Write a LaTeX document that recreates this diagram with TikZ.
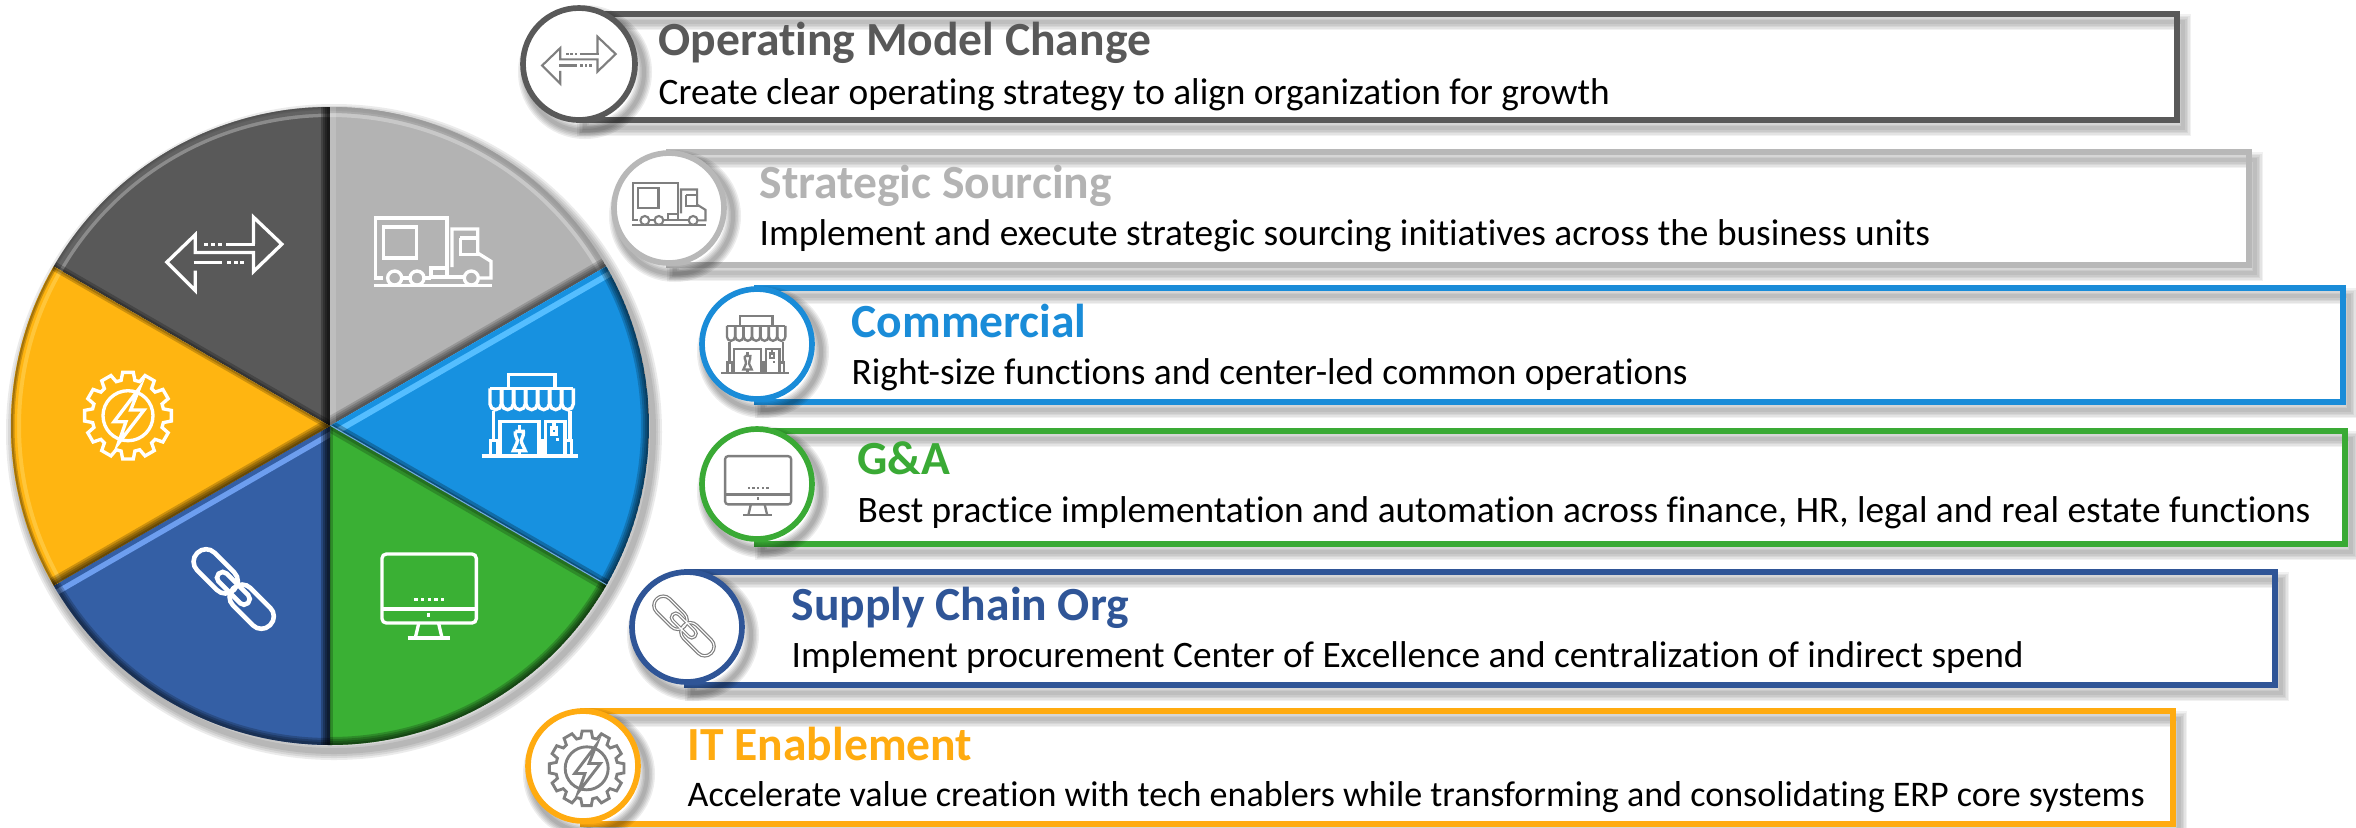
\documentclass[tikz,border=0pt]{standalone}
\usepackage{fontspec}
\setmainfont{Carlito}[Ligatures=CommonOff]
\usetikzlibrary{calc}
\newcommand{\softline}[4]{\foreach \w in {#3}{\draw[#2,opacity=#4,line width=\w*0.3pt] #1;}}
\newcommand{\radial}[1]{(C) -- ++(#1:319)}
\newcommand{\rim}[2]{($(C)+(#1:319)$) arc[start angle=#1,end angle=#2,radius=319]}
\newcommand{\sectorpath}[2]{(C) -- ++(#1:319) arc[start angle=#1,end angle=#2,radius=319] -- cycle}
\newcommand{\iconarrows}[4]{\begin{scope}[shift={(#1,#2)},scale=#3/3,shift={(-673,-581)},draw=#4,fill=#4,line width=#3*1pt,line join=miter]
\draw (678,553) -- (765,553);
\foreach \d in {612,632,652}{\fill (\d,548) rectangle ++(12,10);}
\draw (760,553) -- (760,472) -- (845,553) -- (760,635) -- (760,578) -- (585,578) -- (585,525) -- (500,607) -- (585,692) -- (585,632);
\draw (580,607) -- (665,607);
\foreach \d in {680,700,720}{\fill (\d,602) rectangle ++(12,10);}
\end{scope}}
\newcommand{\icontruck}[4]{\begin{scope}[shift={(#1,#2)},scale=#3/3,shift={(-278,-187)},draw=#4,line width=#3*1pt]
\draw (128,265) -- (105,265) -- (105,85) -- (320,85) -- (320,232);
\draw (130,112) rectangle (228,205);
\draw (102,288) -- (455,288);
\foreach \d in {163,230,393}{\draw (\d,265) circle[radius=21];}
\draw (272,235) rectangle (320,262);
\draw (186,265) -- (208,265);\draw (252,265) -- (272,265);
\draw (320,262) -- (370,262);
\draw (335,232) -- (335,118) -- (412,118) -- (412,190) -- (452,215) -- (452,265) -- (416,265);
\draw (360,145) -- (412,145);\draw (360,145) -- (360,195) -- (420,195);
\end{scope}}
\newcommand{\iconstore}[4]{\begin{scope}[shift={(#1,#2)},scale=#3/3,shift={(-570,-137)},draw=#4,fill=#4,line width=#3*1pt]
\draw (505,55) -- (505,14) -- (645,14) -- (645,55);
\draw (450,55) -- (700,55);
\foreach \d in {450,486,522,558,594,630,666}{\draw (\d,55) -- (\d,102) arc[start angle=180,end angle=0,radius=17] -- ++(0,-47);}
\draw (460,122) -- (460,212);\draw (690,122) -- (690,212);
\draw (480,255) -- (480,155) -- (597,155) -- (597,255);
\draw (617,255) -- (617,155) -- (675,155) -- (675,255);
\draw (425,258) -- (715,258);
\draw (452,255) -- (452,212) -- (480,212);\draw (474,212) -- (474,255);
\draw (597,212) -- (617,212);\draw (606,212) -- (606,255);
\draw (675,212) -- (695,212) -- (695,255);
\draw (538,166) -- (538,180);
\draw (526,184) -- (550,184) .. controls (552,205) and (540,205) .. (545,218) -- (556,242) -- (520,242) -- (531,218) .. controls (536,205) and (524,205) .. (526,184);
\draw (538,242) -- (538,256);
\draw (634,174) rectangle (650,192);\draw (642,160) -- (642,174);
\fill (649,205) rectangle ++(7,7);
\end{scope}}
\newcommand{\iconscreen}[4]{\begin{scope}[shift={(#1,#2)},scale=#3/3,shift={(-236,-229)},draw=#4,fill=#4,line width=#3*1pt]
\draw[rounded corners=#3*1.3pt] (95,103) rectangle (378,310);
\draw (95,268) -- (378,268);
\foreach \d in {192,212,232,252,272}{\fill (\d,234) rectangle ++(10,11);}
\fill (231,280) rectangle ++(9,13);
\draw (205,312) -- (195,354);\draw (265,312) -- (275,354);
\draw (172,355) -- (298,355);
\end{scope}}
\newcommand{\iconchain}[5]{\begin{scope}[shift={(#1,#2)},scale=#3/3,shift={(-341,-148)}]
\foreach \cc/\ww in {#4/#3*4.6,#5/#3*1.5}{
\draw[\cc,line width=\ww*0.3pt,shift={(287,95)},rotate=-45,rounded corners=#3*3.6pt] (-78,-37) rectangle (78,37);
\draw[\cc,line width=\ww*0.3pt,shift={(395,201)},rotate=-45,rounded corners=#3*3.6pt] (-78,-37) rectangle (78,37);
\draw[\cc,line width=\ww*0.3pt,shift={(340,146)},rotate=-45,rounded corners=#3*1.6pt] (-62,-17) rectangle (62,17);}
\end{scope}}
\newcommand{\icongear}[5]{\begin{scope}[shift={(#1,#2)},scale=#3/3,draw=#4,line width=#3*1pt,line join=miter]
\draw (-11:108) \foreach \k in {0,...,11}{ -- ({\k*30-11}:108) -- ({\k*30-7}:131) -- ({\k*30+7}:131) -- ({\k*30+11}:108)} -- cycle;
\draw (0,0) circle[radius=75];
\draw[fill=#5] (34,-82) -- (-42,18) -- (-6,18) -- (-29,83) -- (48,-17) -- (8,-17) -- cycle;
\end{scope}}
\newcommand{\rowbox}[7]{% cx cy r top bottom right colour
\softline{($(#1,#4)+(6,8)$) rectangle ($(#6,#5)+(6,8)$)}{black}{16,13,10,7,4}{0.055}
\draw[#7,line width=1.6pt] (#1,#4) rectangle (#6,#5);
\softline{($(#1,#2)+(6,8)$) circle[radius=#3]}{black}{16,13,10,7,4}{0.07}
\draw[#7,fill=white,line width=1.7pt] (#1,#2) circle[radius=#3-3];
}
\definecolor{cA}{HTML}{595959}
\definecolor{cB}{HTML}{B8B8B8}
\definecolor{cC}{HTML}{1A8CD8}
\definecolor{cD}{HTML}{3AAA35}
\definecolor{cE}{HTML}{2F5597}
\definecolor{cF}{HTML}{FFAB10}
\definecolor{icn}{HTML}{7F7F7F}
\definecolor{pGrayL}{HTML}{B3B3B3}
\definecolor{rimG}{HTML}{9C9C9C}
\definecolor{pBlue}{HTML}{1791E0}
\definecolor{glowB}{HTML}{55BEFF}
\definecolor{edgeB}{HTML}{7DB4E8}
\definecolor{pGreen}{HTML}{3AB034}
\definecolor{pNavy}{HTML}{345FA5}
\definecolor{glowN}{HTML}{6D9EEF}
\definecolor{pYel}{HTML}{FFB511}
\definecolor{glowY}{HTML}{FFC63A}
\tikzset{
  ttl/.style={anchor=base west,inner sep=0pt,font=\fontsize{14.27pt}{16pt}\selectfont\bfseries},
  sub/.style={anchor=base west,inner sep=0pt,text=black,font=\fontsize{11.2pt}{13pt}\selectfont},
  subtight/.style={anchor=base west,inner sep=0pt,text=black,font=\fontsize{10.81pt}{13pt}\selectfont}
}
\begin{document}
\begin{tikzpicture}[x=0.3pt,y=-0.3pt]
\useasboundingbox (0,0) rectangle (2356,827);
\fill[white] (0,0) rectangle (2356,827);
\coordinate (C) at (330,426);
% pie shadow
\softline{($(C)+(4,6)$) circle[radius=319]}{black}{18,14,10,6}{0.08}
% dark grey
\begin{scope}
\clip \sectorpath{210}{270};
\fill[cA] \sectorpath{210}{270};
\softline{\rim{210}{270}}{white}{20}{0.3}
\softline{\rim{210}{270}}{cA}{13}{0.8}
\softline{\rim{210}{270}}{black}{6,3}{0.08}
\softline{\radial{270}}{black}{18,14,10,6}{0.25}
\softline{\radial{210}}{black}{10,5}{0.22}
\end{scope}
% light grey
\begin{scope}
\clip \sectorpath{270}{330};
\fill[pGrayL] \sectorpath{270}{330};
\softline{\rim{270}{330}}{white}{20}{0.28}
\softline{\rim{270}{330}}{rimG}{12,8,4}{0.7}
\softline{\radial{330}}{black}{18,14,10,6}{0.16}
\softline{\radial{270}}{white}{12}{0.15}
\end{scope}
% blue
\begin{scope}
\clip \sectorpath{330}{390};
\fill[pBlue] \sectorpath{330}{390};
\softline{\radial{330}}{glowB}{22}{1}
\softline{\radial{330}}{pBlue}{10}{1}
\softline{\rim{330}{390}}{black}{16,12,8,4}{0.18}
\softline{\radial{390}}{black}{12,6}{0.25}
\softline{\radial{390}}{edgeB}{2.5}{0.9}
\end{scope}
% green
\begin{scope}
\clip \sectorpath{30}{90};
\fill[pGreen] \sectorpath{30}{90};
\softline{\rim{30}{90}}{black}{16,12,8,4}{0.2}
\softline{\radial{30}}{black}{12,6}{0.2}
\softline{\radial{90}}{black}{6}{0.2}
\end{scope}
% dark blue
\begin{scope}
\clip \sectorpath{90}{150};
\fill[pNavy] \sectorpath{90}{150};
\softline{\radial{150}}{glowN}{20}{1}
\softline{\radial{150}}{pNavy}{9}{1}
\softline{\rim{90}{150}}{black}{14,10,6}{0.2}
\softline{\radial{90}}{black}{18,14,10,6}{0.25}
\end{scope}
% yellow
\begin{scope}
\clip \sectorpath{150}{210};
\fill[pYel] \sectorpath{150}{210};
\softline{\rim{150}{210}}{glowY}{20}{1}
\softline{\rim{150}{210}}{pYel}{12}{1}
\softline{\rim{150}{210}}{black}{7,4}{0.2}
\softline{\radial{150}}{black}{16,12,8,4}{0.2}
\softline{\radial{210}}{black}{8,4}{0.2}
\end{scope}
% pie icons
\iconarrows{224.5}{253.5}{1}{white}
\icontruck{433}{252}{1}{white}
\iconstore{530}{415.7}{1}{white}
\iconscreen{429}{596}{1}{white}
\iconchain{233.7}{589}{1}{white}{white}
\icongear{128}{415.7}{1}{white}{pYel}
% rows
\rowbox{579}{64}{59}{14}{120}{2177}{cA}
\iconarrows{579}{60}{0.64}{icn}
\node[ttl,text=cA] (t1) at (658,55) {Operating Model Change};
\node[sub] (s1) at (658,104) {Create clear operating strategy to align organization for growth};
\rowbox{669}{208}{58}{152}{265}{2249}{cB}
\icontruck{669}{204}{0.63}{icn}
\node[ttl,text=pGrayL] (t2) at (759,198) {Strategic Sourcing};
\node[sub] (s2) at (759,245) {Implement and execute strategic sourcing initiatives across the business units};
\rowbox{757}{344}{58}{288}{402}{2343}{cC}
\iconstore{755}{345}{0.7}{icn}
\node[ttl,text=cC] (t3) at (851,337) {Commercial};
\node[sub] (s3) at (851,384) {Right-size functions and center-led common operations};
\rowbox{757}{484}{58}{431}{544}{2345}{cD}
\iconscreen{758}{485.5}{0.7}{icn}
\node[ttl,text=cD] (t4) at (857,474) {G\&A};
\node[sub] (s4) at (857,522) {Best practice implementation and automation across finance, HR, legal and real estate functions};
\rowbox{687}{627}{58}{572}{685}{2275}{cE}
\iconchain{684}{626}{0.75}{icn}{white}
\node[ttl,text=cE] (t5) at (791,620) {Supply Chain Org};
\node[sub] (s5) at (791,667) {Implement procurement Center of Excellence and centralization of indirect spend};
\rowbox{583}{766}{58}{711}{824}{2173}{cF}
\icongear{586.7}{768.3}{0.86}{icn}{white}
\node[ttl,text=cF] (t6) at (687,760) {IT Enablement};
\node[subtight] (s6) at (687,806) {Accelerate value creation with tech enablers while transforming and consolidating ERP core systems};
\end{tikzpicture}
\end{document}
